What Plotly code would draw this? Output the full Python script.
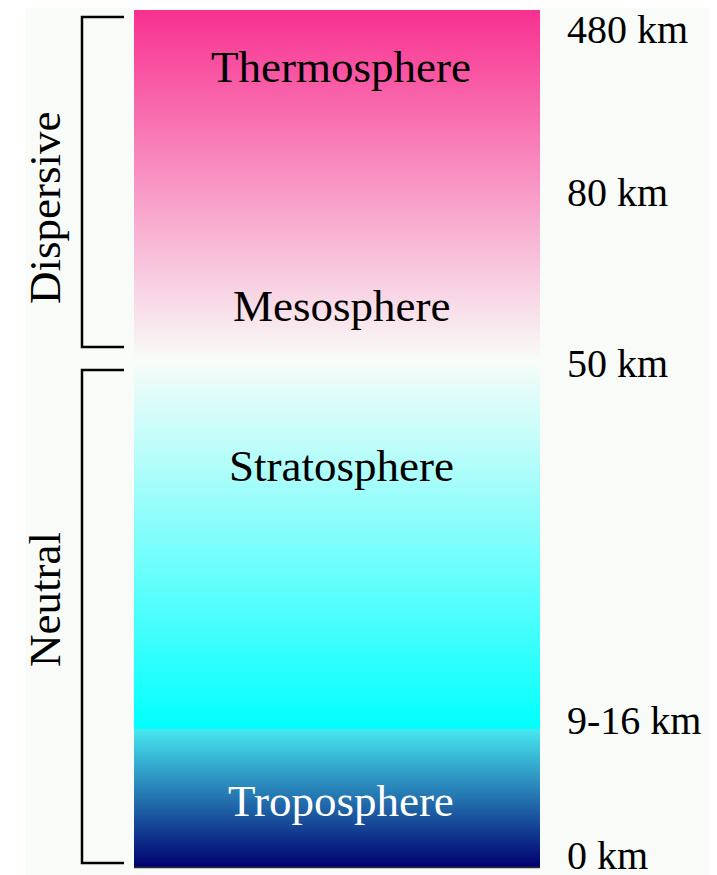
import numpy as np
import plotly.graph_objects as go

# ---------------- data ----------------
# schematic altitude axis (diagram units, bottom of page = 0, top = 875)
layer_names = ["Troposphere", "Stratosphere", "Mesosphere", "Thermosphere"]
layer_label_alt = [74, 409, 569, 808]
layer_label_colors = ["white", "black", "black", "black"]

boundary_labels = ["0 km", "9-16 km", "50 km", "80 km", "480 km"]
boundary_label_alt = [20, 155, 512, 683, 846]

# colour stops along the column (altitude, colour)
stop_alt = [8, 146, 146.5, 515, 865]
stop_colors = ["rgb(0,0,112)", "rgb(72,232,240)", "rgb(0,255,255)",
               "rgb(248,252,248)", "rgb(248,48,144)"]

region_names = ["Neutral", "Dispersive"]
region_bottom = [12, 528]
region_top = [505, 858]
region_label_alt = [275, 667]

# ---------------- layout constants ----------------
W, H = 717, 875
PAGE_OFFSET = 8          # browser body margin
col_left, col_right = 134, 540
col_bottom, col_top = stop_alt[0], stop_alt[-1]
label_x = 565
bracket_x, bracket_tick_x = 82, 124
region_label_x = 45
BG = "#f8fbf8"
FONT = "Liberation Serif, Times New Roman, serif"

# colour scale built from the stops
zmin, zmax = stop_alt[0], stop_alt[-1]
colorscale = [[(a - zmin) / (zmax - zmin), c] for a, c in zip(stop_alt, stop_colors)]

# rendering grid for the gradient column
n_rows = 857
y_edges = np.linspace(col_bottom, col_top, n_rows + 1)
y_mid = (y_edges[:-1] + y_edges[1:]) / 2
z = y_mid.reshape(-1, 1)

fig = go.Figure()
fig.add_trace(go.Heatmap(
    x=[col_left, col_right], y=y_edges, z=z,
    colorscale=colorscale, zmin=zmin, zmax=zmax,
    showscale=False, hoverinfo="skip", zsmooth=False,
))

shapes = []
# white border strip of the original page
shapes.append(dict(type="rect", xref="x", yref="y", x0=0, x1=25, y0=-20, y1=H + 20,
                   fillcolor="white", line_width=0, layer="below"))
# dark bottom edge of column
shapes.append(dict(type="line", xref="x", yref="y", x0=col_left, x1=col_right,
                   y0=col_bottom - 0.5, y1=col_bottom - 0.5,
                   line=dict(color="#303030", width=1.5)))
# brackets
for b, t in zip(region_bottom, region_top):
    path = (f"M {bracket_tick_x},{t} L {bracket_x},{t} "
            f"L {bracket_x},{b} L {bracket_tick_x},{b}")
    shapes.append(dict(type="path", xref="x", yref="y", path=path,
                       line=dict(color="black", width=2.5)))

annotations = []
for name, a, c in zip(layer_names, layer_label_alt, layer_label_colors):
    annotations.append(dict(x=(col_left + col_right) / 2 + 4, y=a, xref="x", yref="y",
                            text=name, showarrow=False,
                            font=dict(family=FONT, size=45, color=c),
                            xanchor="center", yanchor="middle"))
for lab, a in zip(boundary_labels, boundary_label_alt):
    annotations.append(dict(x=label_x, y=a, xref="x", yref="y", text=lab,
                            showarrow=False, font=dict(family=FONT, size=40, color="black"),
                            xanchor="left", yanchor="middle"))
for name, a in zip(region_names, region_label_alt):
    annotations.append(dict(x=region_label_x, y=a, xref="x", yref="y", text=name,
                            showarrow=False, textangle=-90,
                            font=dict(family=FONT, size=45, color="black"),
                            xanchor="center", yanchor="middle"))

fig.update_layout(
    width=W, height=H,
    margin=dict(l=0, r=0, t=0, b=0),
    paper_bgcolor=BG, plot_bgcolor=BG,
    xaxis=dict(range=[PAGE_OFFSET, W + PAGE_OFFSET], visible=False, fixedrange=True),
    yaxis=dict(range=[-PAGE_OFFSET, H - PAGE_OFFSET], visible=False, fixedrange=True),
    shapes=shapes, annotations=annotations, showlegend=False,
)

fig.write_html("out.html")
